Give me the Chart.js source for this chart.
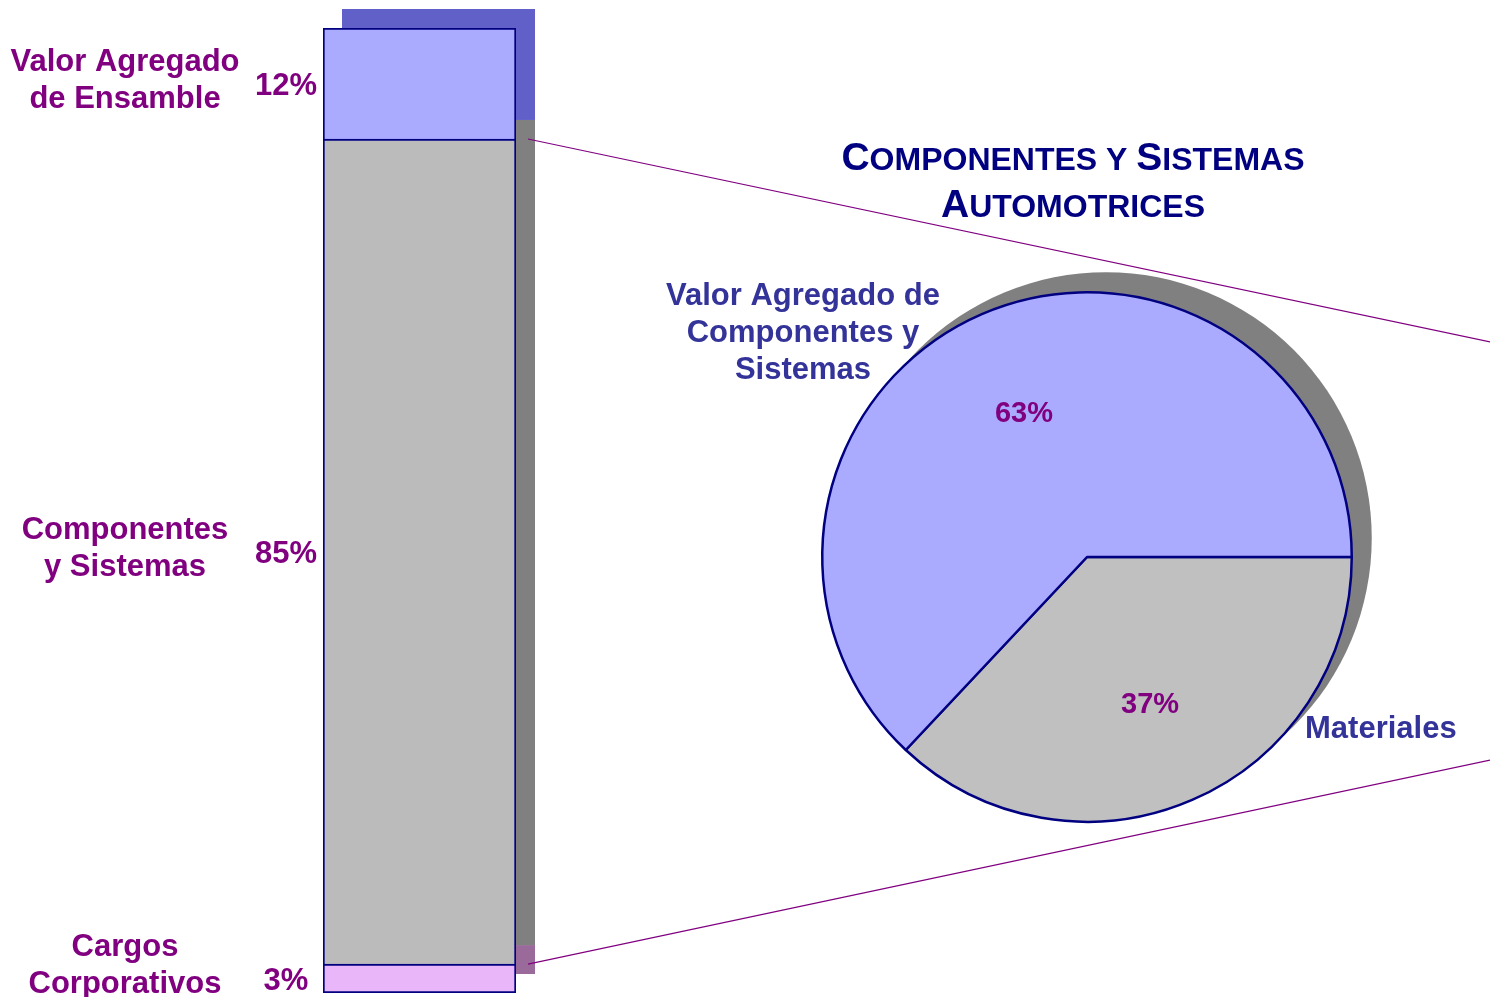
<!DOCTYPE html>
<html>
<head>
<meta charset="utf-8">
<script src="https://cdn.jsdelivr.net/npm/chart.js@4"></script>
<style>
  html, body { margin: 0; padding: 0; background: #fff; overflow: hidden; }
  .stage { position: relative; width: 1490px; height: 997px; }
  .stage canvas { position: absolute; left: 0; top: 0; }
  #barChart { pointer-events: none; }
</style>
</head>
<body>
<div class="stage">
  <canvas id="pieChart" width="1490" height="997"></canvas>
  <canvas id="barChart" width="1490" height="997"></canvas>
</div>
<script>
// Stacked bar (bottom to top)
const barCategories = ['Cargos Corporativos', 'Componentes y Sistemas', 'Valor Agregado de Ensamble'];
const barValues = [3, 85.5, 11.5];
const barLabels = ['3%', '85%', '12%'];
const barLabelLines = [['Cargos', 'Corporativos'], ['Componentes', 'y Sistemas'], ['Valor Agregado', 'de Ensamble']];

// Pie breakdown of "Componentes y Sistemas"
const pieCategories = ['Materiales', 'Valor Agregado de Componentes y Sistemas'];
const pieValues = [37, 63];
const pieLabels = ['37%', '63%'];
const pieLabelLines = [['Materiales'], ['Valor Agregado de', 'Componentes y', 'Sistemas']];

const titleLines = ['Componentes y Sistemas', 'Automotrices'];

const FONT = '"Liberation Sans", Arial, sans-serif';
const PURPLE = '#800080';
const NAVY = '#000080';
const SHADOW = 19;

const barColors = ['#EAB6FA', '#BBBBBB', '#AAAAFF'];
const barShadowColors = ['#9A6A9A', '#808080', '#6060C8'];
const barSkip = [false, 'start', 'start'];

// Draw text so that its capital letters are centred on y
function capText(ctx, text, x, y, size, align) {
  ctx.font = `bold ${size}px ${FONT}`;
  ctx.textAlign = align;
  ctx.textBaseline = 'alphabetic';
  ctx.fillText(text, x, y + size * 0.716 / 2);
}

// Small caps: upper case letters big, lower case ones small and upper-cased
function drawSmallCaps(ctx, text, cx, baseline, bigSize, smallSize) {
  const runs = [];
  for (const ch of text) {
    const size = (ch !== ch.toLowerCase()) ? bigSize : smallSize;
    const last = runs[runs.length - 1];
    if (last && last.size === size) last.t += ch.toUpperCase();
    else runs.push({ t: ch.toUpperCase(), size: size });
  }
  let total = 0;
  runs.forEach(r => {
    ctx.font = `bold ${r.size}px ${FONT}`;
    r.w = ctx.measureText(r.t).width;
    total += r.w;
  });
  let x = cx - total / 2;
  ctx.textAlign = 'left';
  ctx.textBaseline = 'alphabetic';
  runs.forEach(r => {
    ctx.font = `bold ${r.size}px ${FONT}`;
    ctx.fillText(r.t, x, baseline);
    x += r.w;
  });
}

// Shadow behind each bar segment
const barShadowPlugin = {
  id: 'barShadow',
  beforeDatasetsDraw(chart) {
    const ctx = chart.ctx;
    ctx.save();
    chart.data.datasets.forEach((ds, i) => {
      const el = chart.getDatasetMeta(i).data[0];
      const p = el.getProps(['x', 'y', 'base', 'width'], true);
      ctx.fillStyle = barShadowColors[i];
      ctx.fillRect(p.x - p.width / 2 + SHADOW, p.y - SHADOW, p.width, p.base - p.y);
    });
    ctx.restore();
  }
};

// Side labels and connector lines
const barLabelPlugin = {
  id: 'barLabels',
  afterDraw(chart) {
    const ctx = chart.ctx;
    const area = chart.chartArea;
    ctx.save();
    ctx.fillStyle = PURPLE;
    chart.data.datasets.forEach((ds, i) => {
      const el = chart.getDatasetMeta(i).data[0];
      const p = el.getProps(['y', 'base'], true);
      const mid = (p.y + p.base) / 2;
      const lines = barLabelLines[i];
      let first = mid - 5 - 18.5 * (lines.length - 1);
      const lastY = first + 37 * (lines.length - 1);
      if (lastY > chart.height - 15) first -= lastY - (chart.height - 15);
      lines.forEach((t, k) => capText(ctx, t, area.left - 198, first + 37 * k, 31, 'center'));
      capText(ctx, barLabels[i], area.left - 37, Math.min(mid, chart.height - 18), 31, 'center');
    });

    // lines from the "Componentes y Sistemas" segment towards the pie
    const seg = chart.getDatasetMeta(1).data[0].getProps(['y', 'base'], true);
    const x0 = area.right + 12;
    ctx.strokeStyle = PURPLE;
    ctx.lineWidth = 1.2;
    ctx.beginPath();
    ctx.moveTo(x0, seg.y);
    ctx.lineTo(chart.width, seg.y + (chart.width - x0) * 0.211);
    ctx.moveTo(x0, seg.base);
    ctx.lineTo(chart.width, seg.base - (chart.width - x0) * 0.212);
    ctx.stroke();
    ctx.restore();
  }
};

const pieShadowPlugin = {
  id: 'pieShadow',
  beforeDatasetsDraw(chart) {
    const arc = chart.getDatasetMeta(0).data[0];
    const ctx = chart.ctx;
    ctx.save();
    ctx.fillStyle = '#808080';
    ctx.beginPath();
    ctx.arc(arc.x + SHADOW, arc.y - SHADOW, arc.outerRadius + 1, 0, Math.PI * 2);
    ctx.fill();
    ctx.restore();
  }
};

const pieLabelPlugin = {
  id: 'pieLabels',
  afterDraw(chart) {
    const ctx = chart.ctx;
    const arcs = chart.getDatasetMeta(0).data;
    const cx = arcs[0].x, cy = arcs[0].y, R = arcs[0].outerRadius;
    ctx.save();

    // percentages inside the slices
    ctx.fillStyle = PURPLE;
    arcs.forEach((a, i) => {
      const ang = (a.startAngle + a.endAngle) / 2;
      capText(ctx, pieLabels[i], cx + Math.cos(ang) * R * 0.6, cy + Math.sin(ang) * R * 0.6, 29, 'center');
    });

    // category names outside
    ctx.fillStyle = '#333399';
    capText(ctx, pieLabelLines[0][0], cx + 218, cy + 170, 31, 'left');
    pieLabelLines[1].forEach((t, k) => capText(ctx, t, cx - 284, cy - 263 + 37 * k, 31, 'center'));

    // title
    ctx.fillStyle = NAVY;
    drawSmallCaps(ctx, titleLines[0], cx - 14, 170, 39, 32);
    drawSmallCaps(ctx, titleLines[1], cx - 14, 217, 39, 32);
    ctx.restore();
  }
};

new Chart(document.getElementById('pieChart'), {
  type: 'pie',
  data: {
    labels: pieCategories,
    datasets: [{
      data: pieValues,
      backgroundColor: ['#C0C0C0', '#AAAAFF'],
      borderColor: NAVY,
      borderWidth: 2.5
    }]
  },
  options: {
    responsive: false,
    animation: false,
    rotation: 90,
    layout: { padding: { left: 821, right: 137, top: 291, bottom: 174 } },
    plugins: { legend: { display: false }, tooltip: { enabled: false } }
  },
  plugins: [pieShadowPlugin, pieLabelPlugin]
});

new Chart(document.getElementById('barChart'), {
  type: 'bar',
  data: {
    labels: [''],
    datasets: barCategories.map((name, i) => ({
      label: name,
      data: [barValues[i]],
      backgroundColor: barColors[i],
      borderColor: NAVY,
      borderWidth: 2,
      borderSkipped: barSkip[i],
      barPercentage: 1,
      categoryPercentage: 1
    }))
  },
  options: {
    responsive: false,
    animation: false,
    layout: { padding: { left: 323, right: 974, top: 28, bottom: 4 } },
    scales: {
      x: { stacked: true, display: false },
      y: { stacked: true, display: false, min: 0, max: 100 }
    },
    plugins: { legend: { display: false }, tooltip: { enabled: false } }
  },
  plugins: [barShadowPlugin, barLabelPlugin]
});
</script>
</body>
</html>
